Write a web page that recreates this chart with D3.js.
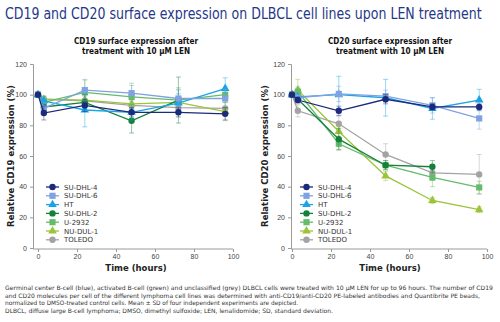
<!DOCTYPE html>
<html>
<head>
<meta charset="utf-8">
<script src="https://cdn.jsdelivr.net/npm/d3@7"></script>
<style>
  body { margin: 0; background: #fff; }
  svg { display: block; font-family: "DejaVu Sans", Verdana, sans-serif; }
  .tick text { fill: #444; font-size: 7px; }
  .tick line, .domain { stroke: #9a9a9a; }
</style>
</head>
<body>
<div id="chart"></div>
<script>
// time points (hours)
var times = [0, 3, 24, 48, 72, 96];
var cellLines = ["SU-DHL-4", "SU-DHL-6", "HT", "SU-DHL-2", "U-2932", "NU-DUL-1", "TOLEDO"];
var lineColors = ["#1b2a7a", "#7fa3e0", "#1aa3e8", "#14813a", "#66bb6a", "#9cc43a", "#a3a3a3"];
var shapes = ["circle", "square", "triangle", "circle", "square", "triangle", "circle"];
var xTicks = [0, 20, 40, 60, 80, 100];
var yTicks = [0, 20, 40, 60, 80, 100, 120];

// CD19, mean and SD per cell line (null = not measured)
var cd19Mean = [
  [100, 88, 93, 88.5, 88.5, 87.5],
  [100, 91, 103, 101, 97.5, 97.5],
  [100, 96, 90, 88.5, 94.5, 104],
  [100, 92, 95, 83, 96.5, null],
  [100, 95, 101.5, 98.5, 96.5, 100],
  [100, 97, 96.5, 94, 95, 89],
  [100, 97, 96, 93, 91.5, 91]
];
var cd19Sd = [
  [0, 4.5, 4, 3, 3, 4],
  [0, 4, 7, 5, 6, 6],
  [0, 3, 11, 5, 6, 7],
  [0, 3, 5, 8, 15, null],
  [0, 2, 8, 9, 8, 5],
  [0, 2, 4, 5, 8, 6],
  [0, 2, 3, 4, 4, 4]
];

// CD20, mean and SD per cell line
var cd20Mean = [
  [100, 96.5, 89.5, 97, 92, 92],
  [100, 98, 100.5, 99, 93, 84.5],
  [100, 98.5, 100, 98, 91, 96.5],
  [100, 97, 71, 54, 53, null],
  [100, 102, 68, 54, 46, 39.5],
  [100, 103, 76, 47, 31, 25],
  [100, 89.5, 81, 61, 49, 48]
];
var cd20Sd = [
  [0, 2, 3, 3, 2, 2],
  [0, 2, 5, 4, 5, 7],
  [0, 2, 12, 12, 7, 7],
  [0, 2, 7, 3, 4, null],
  [0, 3, 4, 3, 6, 4],
  [0, 7, 3, 3, 2, 2],
  [0, 4, 5, 7, 5, 13]
];

var W = 500, H = 322;
var svg = d3.select("#chart").append("svg")
    .attr("width", W)
    .attr("height", H);

// title: squeeze horizontally with a scale so it fits like the narrow original font
var titleG = svg.append("g").attr("transform", "translate(5,19)");
var title = titleG.append("text")
    .attr("font-size", "15px")
    .attr("fill", "#1f3889")
    .text("CD19 and CD20 surface expression on DLBCL cell lines upon LEN treatment");
var tw = title.node().getComputedTextLength();
titleG.attr("transform", "translate(5,19) scale(" + (477 / tw) + ",1)");

var symbolFor = {
  circle: d3.symbolCircle,
  square: d3.symbolSquare,
  triangle: d3.symbolTriangle
};
var symbolSize = { circle: 32, square: 38, triangle: 32 };

function drawPanel(opt) {
  var x = d3.scaleLinear().domain([0, 100]).range([opt.x0, opt.x0 + 195]);
  var y = d3.scaleLinear().domain([0, 120]).range([248, 64]);

  var g = svg.append("g");

  // subtitle
  opt.title.forEach(function(t, i) {
    g.append("text")
      .attr("x", opt.cx)
      .attr("y", 43.5 + i * 10)
      .attr("text-anchor", "middle")
      .attr("font-size", "8px")
      .attr("font-weight", "bold")
      .attr("fill", "#111")
      .attr("textLength", i == 0 ? 124 : 108)
      .attr("lengthAdjust", "spacingAndGlyphs")
      .text(t);
  });

  // axes
  g.append("g")
    .attr("transform", "translate(" + opt.yAxisX + ",0)")
    .call(d3.axisLeft(y).tickValues(yTicks).tickSize(3).tickPadding(3));
  var xa = g.append("g")
    .attr("transform", "translate(0,249)")
    .call(d3.axisBottom(x).tickValues(xTicks).tickSize(3).tickPadding(2));
  xa.select(".domain").attr("d", "M" + opt.yAxisX + ",0H" + x(100));

  g.append("text")
    .attr("transform", "translate(" + opt.labelX + ",156) rotate(-90)")
    .attr("text-anchor", "middle")
    .attr("font-size", "8.5px")
    .attr("font-weight", "bold")
    .attr("fill", "#222")
    .text(opt.yLabel);

  g.append("text")
    .attr("x", opt.cx)
    .attr("y", 271)
    .attr("text-anchor", "middle")
    .attr("font-size", "8.5px")
    .attr("font-weight", "bold")
    .attr("fill", "#222")
    .text("Time (hours)");

  var line = d3.line()
    .defined(function(d) { return d.v != null; })
    .x(function(d) { return x(d.t); })
    .y(function(d) { return y(d.v); });

  // draw last series first so SU-DHL-4 ends on top
  for (var k = cellLines.length - 1; k >= 0; k--) {
    var pts = times.map(function(t, i) {
      return { t: t, v: opt.mean[k][i], sd: opt.sd[k][i] };
    });
    var valid = pts.filter(function(d) { return d.v != null; });
    var col = lineColors[k];
    var sg = g.append("g");

    // error bars
    valid.filter(function(d) { return d.sd > 0; }).forEach(function(d) {
      var eb = sg.append("g").attr("stroke", col).attr("stroke-opacity", 0.45).attr("stroke-width", 1);
      eb.append("line").attr("x1", x(d.t)).attr("x2", x(d.t))
        .attr("y1", y(d.v - d.sd)).attr("y2", y(d.v + d.sd));
      eb.append("line").attr("x1", x(d.t) - 2.5).attr("x2", x(d.t) + 2.5)
        .attr("y1", y(d.v - d.sd)).attr("y2", y(d.v - d.sd));
      eb.append("line").attr("x1", x(d.t) - 2.5).attr("x2", x(d.t) + 2.5)
        .attr("y1", y(d.v + d.sd)).attr("y2", y(d.v + d.sd));
    });

    sg.append("path")
      .attr("d", line(pts))
      .attr("fill", "none")
      .attr("stroke", col)
      .attr("stroke-width", 1.3);

    sg.selectAll(".mk").data(valid).enter()
      .append("path")
      .attr("class", "mk")
      .attr("transform", function(d) { return "translate(" + x(d.t) + "," + y(d.v) + ")"; })
      .attr("d", d3.symbol().type(symbolFor[shapes[k]]).size(symbolSize[shapes[k]]))
      .attr("fill", col);
  }

  // legend
  var lg = g.append("g");
  cellLines.forEach(function(name, i) {
    var ly = 187 + i * 8.8;
    lg.append("line")
      .attr("x1", opt.legX).attr("x2", opt.legX + 13)
      .attr("y1", ly).attr("y2", ly)
      .attr("stroke", lineColors[i]).attr("stroke-width", 1.3);
    lg.append("path")
      .attr("transform", "translate(" + (opt.legX + 6.5) + "," + ly + ")")
      .attr("d", d3.symbol().type(symbolFor[shapes[i]]).size(symbolSize[shapes[i]]))
      .attr("fill", lineColors[i]);
    lg.append("text")
      .attr("x", opt.legX + 18)
      .attr("y", ly + 2.5)
      .attr("font-size", "7px")
      .attr("fill", "#333")
      .text(name);
  });
}

drawPanel({
  x0: 38, yAxisX: 33, cx: 136, labelX: 14, legX: 46,
  title: ["CD19 surface expression after", "treatment with 10 \u00b5M LEN"],
  yLabel: "Relative CD19 expression (%)",
  mean: cd19Mean, sd: cd19Sd
});
drawPanel({
  x0: 292, yAxisX: 291, cx: 390, labelX: 268, legX: 300,
  title: ["CD20 surface expression after", "treatment with 10 \u00b5M LEN"],
  yLabel: "Relative CD20 expression (%)",
  mean: cd20Mean, sd: cd20Sd
});

// footnote
var notes = [
  ["Germinal center B-cell (blue), activated B-cell (green) and unclassified (grey) DLBCL cells were treated with 10 \u00b5M LEN for up to 96 hours. The number of CD19", 488],
  ["and CD20 molecules per cell of the different lymphoma cell lines was determined with anti-CD19/anti-CD20 PE-labeled antibodies and Quantibrite PE beads,", 475],
  ["normalized to DMSO-treated control cells. Mean \u00b1 SD of four independent experiments are depicted.", 293],
  ["DLBCL, diffuse large B-cell lymphoma; DMSO, dimethyl sulfoxide; LEN, lenalidomide; SD, standard deviation.", 328]
];
notes.forEach(function(n, i) {
  svg.append("text")
    .attr("x", 5)
    .attr("y", 290 + i * 7.6)
    .attr("font-size", "6px")
    .attr("fill", "#333")
    .attr("textLength", n[1])
    .attr("lengthAdjust", "spacingAndGlyphs")
    .text(n[0]);
});
</script>
</body>
</html>
